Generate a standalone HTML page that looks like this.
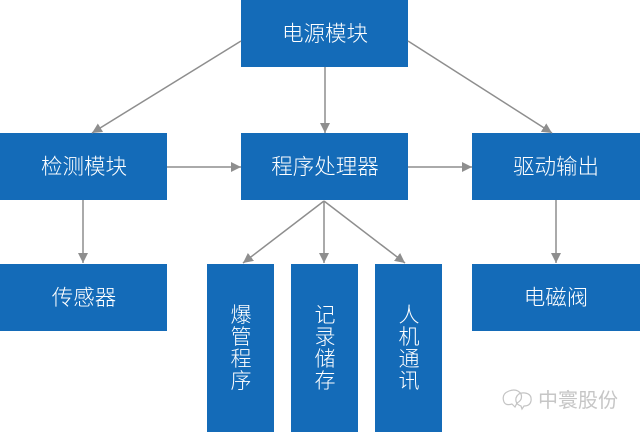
<!DOCTYPE html>
<html><head><meta charset="utf-8"><style>
html,body{margin:0;padding:0;background:#fff;}
body{width:640px;height:432px;overflow:hidden;}
svg text{font-family:"Liberation Sans","Noto Sans CJK SC",sans-serif;}
</style></head><body>
<svg width="640" height="432" viewBox="0 0 640 432" xmlns="http://www.w3.org/2000/svg">
<defs>
<marker id="a" viewBox="0 0 10 10" refX="10" refY="5" markerWidth="10" markerHeight="10" markerUnits="userSpaceOnUse" orient="auto">
<path d="M0,0 L10,5 L0,10 z" fill="#8e8e8e"/>
</marker>
</defs>
<g fill="#146bb8">
<rect x="241" y="0" width="167" height="67"/>
<rect x="0" y="133" width="167" height="67"/>
<rect x="241" y="133" width="167" height="67"/>
<rect x="472" y="133" width="168" height="67"/>
<rect x="0" y="264" width="167" height="67"/>
<rect x="472" y="264" width="168" height="67"/>
<rect x="207" y="264" width="67" height="168"/>
<rect x="291" y="264" width="67" height="168"/>
<rect x="375" y="264" width="67" height="168"/>
</g>
<g stroke="#8e8e8e" stroke-width="1.5" fill="none" marker-end="url(#a)">
<line x1="241" y1="41" x2="92" y2="133"/>
<line x1="325" y1="67" x2="325" y2="133"/>
<line x1="408" y1="41" x2="552" y2="133"/>
<line x1="167" y1="167" x2="241" y2="167"/>
<line x1="408" y1="167" x2="472" y2="167"/>
<line x1="83" y1="200" x2="83" y2="263"/>
<line x1="556" y1="200" x2="556" y2="263"/>
<line x1="324" y1="201" x2="243" y2="263"/>
<line x1="324" y1="201" x2="324" y2="263"/>
<line x1="324" y1="201" x2="405" y2="263"/>
</g>
<g fill="#ffffff" font-size="21.5" text-anchor="middle" font-weight="300">
<text x="325" y="41">电源模块</text>
<text x="84" y="174">检测模块</text>
<text x="325" y="174">程序处理器</text>
<text x="556" y="174">驱动输出</text>
<text x="84" y="305">传感器</text>
<text x="556" y="305">电磁阀</text>
</g>
<g fill="#ffffff" font-size="21" text-anchor="middle" font-weight="300">
<text x="241" y="322">爆</text>
<text x="241" y="344">管</text>
<text x="241" y="366">程</text>
<text x="241" y="388">序</text>
<text x="325" y="322">记</text>
<text x="325" y="344">录</text>
<text x="325" y="366">储</text>
<text x="325" y="388">存</text>
<text x="409" y="322">人</text>
<text x="409" y="344">机</text>
<text x="409" y="366">通</text>
<text x="409" y="388">讯</text>
</g>
<g stroke="#c4c4c4" stroke-width="1.2" fill="none">
<path d="M504,402 q-3,-8 5,-11 q8,-3 12,3 q2,6 -4,9 l-2,4 l-3,-3 q-6,2 -8,-2 z"/>
<path d="M516,398 q2,-6 9,-5 q7,1 6,8 q-1,5 -7,5 l-2,3 l-1,-3 q-6,-2 -5,-8 z"/>
</g>
<text x="578" y="407" font-size="20" fill="#c6c6c6" text-anchor="middle">中寰股份</text>
</svg>
</body></html>
